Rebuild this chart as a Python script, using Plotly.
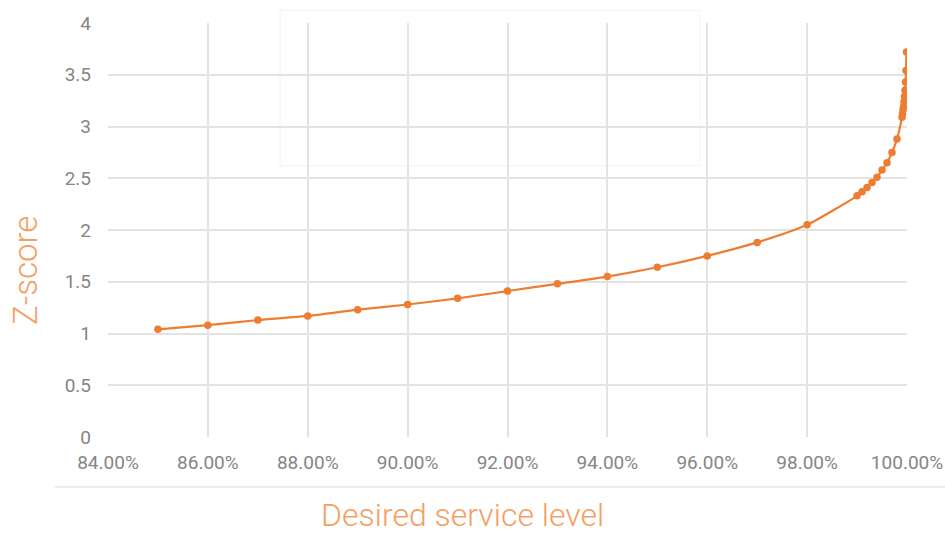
import plotly.graph_objects as go

# Desired service level (fraction) and the matching standard normal Z-score
service_level = [
    0.85, 0.86, 0.87, 0.88, 0.89, 0.90, 0.91, 0.92, 0.93, 0.94,
    0.95, 0.96, 0.97, 0.98,
    0.990, 0.991, 0.992, 0.993, 0.994, 0.995, 0.996, 0.997, 0.998, 0.999,
    0.9991, 0.9992, 0.9993, 0.9994, 0.9995, 0.9996, 0.9997, 0.9998, 0.9999,
]
z_score = [
    1.04, 1.08, 1.13, 1.17, 1.23, 1.28, 1.34, 1.41, 1.48, 1.55,
    1.64, 1.75, 1.88, 2.05,
    2.33, 2.37, 2.41, 2.46, 2.51, 2.58, 2.65, 2.75, 2.88, 3.09,
    3.12, 3.16, 3.19, 3.24, 3.29, 3.35, 3.43, 3.54, 3.72,
]

line_color = "#ED7D31"
title_color = "#F5A062"
tick_color = "#858585"
grid_color = "#E3E3E3"
font_family = "Roboto, 'Open Sans', sans-serif"

fig = go.Figure(
    go.Scatter(
        x=service_level,
        y=z_score,
        mode="lines+markers",
        line=dict(color=line_color, width=2.2, shape="spline", smoothing=0.6),
        marker=dict(color=line_color, size=7.5),
        hoverinfo="x+y",
    )
)

fig.update_layout(
    width=945,
    height=534,
    margin=dict(l=108, r=38, t=23, b=97),
    paper_bgcolor="white",
    plot_bgcolor="white",
    showlegend=False,
    font=dict(family=font_family, color=tick_color, size=20),
)

fig.update_xaxes(
    range=[0.84, 1.0],
    dtick=0.02,
    tick0=0.84,
    tickformat=".2%",
    showgrid=True,
    gridcolor=grid_color,
    gridwidth=1.5,
    zeroline=False,
    showline=False,
    ticks="",
    automargin=False,
    ticklabelstandoff=12,
    tickfont=dict(family=font_family, size=19, color=tick_color),
)
fig.update_yaxes(
    range=[0, 4],
    dtick=0.5,
    showgrid=True,
    gridcolor=grid_color,
    gridwidth=1.5,
    zeroline=False,
    showline=False,
    ticks="",
    automargin=False,
    ticklabelstandoff=16,
    tickfont=dict(family=font_family, size=19, color=tick_color),
)

# Axis titles
fig.add_annotation(
    text="Desired service level",
    xref="paper", yref="paper",
    x=(462 - 108) / 799, y=-(515 - 437) / 414,
    showarrow=False,
    font=dict(family=font_family, size=32, color=title_color, weight=300),
    xanchor="center", yanchor="middle",
)
fig.add_annotation(
    text="Z-score",
    xref="paper", yref="paper",
    x=-(108 - 25) / 799, y=(437 - 271) / 414,
    textangle=-90,
    showarrow=False,
    font=dict(family=font_family, size=33, color=title_color, weight=300),
    xanchor="center", yanchor="middle",
)

# Thin separator under the tick labels
fig.add_shape(
    type="line",
    xref="paper", yref="paper",
    x0=-(108 - 55) / 799, x1=(945 - 108) / 799,
    y0=-(487 - 437) / 414, y1=-(487 - 437) / 414,
    line=dict(color="#E6E6E6", width=1.5),
)

# Faint panel outline in the upper part of the plot
fig.add_shape(
    type="rect",
    xref="paper", yref="paper",
    x0=(280 - 108) / 799, x1=(700 - 108) / 799,
    y0=(437 - 166) / 414, y1=(437 - 10) / 414,
    line=dict(color="rgba(0,0,0,0.025)", width=2),
    fillcolor="rgba(0,0,0,0.004)",
    layer="below",
)

fig.write_html("out.html")
